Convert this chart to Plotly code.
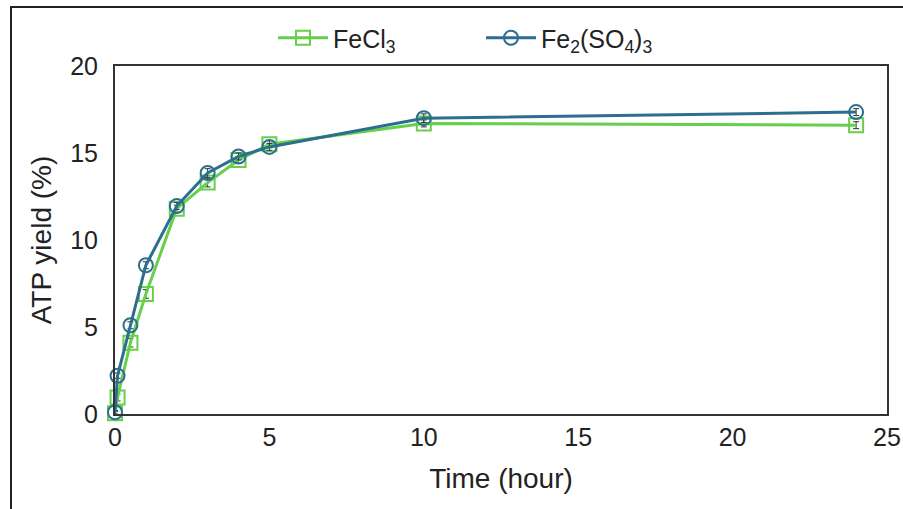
import plotly.graph_objects as go

# Sampling times (hours)
time_h = [0, 0.083, 0.5, 1, 2, 3, 4, 5, 10, 24]

# ATP yield (%) for each iron salt
fecl3_yield = [0.05, 0.95, 4.1, 6.9, 11.8, 13.3, 14.6, 15.5, 16.7, 16.6]
fecl3_err = [0.1, 0.2, 0.25, 0.25, 0.2, 0.25, 0.2, 0.2, 0.2, 0.2]

fe2so43_yield = [0.1, 2.2, 5.1, 8.55, 11.95, 13.85, 14.8, 15.35, 17.0, 17.35]
fe2so43_err = [0.1, 0.15, 0.2, 0.2, 0.2, 0.25, 0.2, 0.2, 0.25, 0.2]

x_ticks = [0, 5, 10, 15, 20, 25]
y_ticks = [0, 5, 10, 15, 20]

GREEN = "#66cf4b"
BLUE = "#2c6e8e"
FONT = "Liberation Sans, Arial, sans-serif"
INK = "#222222"

fig = go.Figure()

fig.add_trace(go.Scatter(
    x=time_h, y=fecl3_yield, name="FeCl<sub>3</sub>",
    mode="lines+markers",
    line=dict(color=GREEN, width=3),
    marker=dict(symbol="square-open", size=14, color=GREEN, line=dict(width=2)),
    error_y=dict(type="data", array=fecl3_err, color="#333333", thickness=1, width=3),
    cliponaxis=False,
))

fig.add_trace(go.Scatter(
    x=time_h, y=fe2so43_yield, name="Fe<sub>2</sub>(SO<sub>4</sub>)<sub>3</sub>",
    mode="lines+markers",
    line=dict(color=BLUE, width=3),
    marker=dict(symbol="circle-open", size=14, color=BLUE, line=dict(width=2)),
    error_y=dict(type="data", array=fe2so43_err, color="#333333", thickness=1, width=3),
    cliponaxis=False,
))

# Plot-area geometry in pixels
W, H = 903, 509
L, R, T, B = 115, 16, 66, 95
pw, ph = W - L - R, H - T - B

# Outer frame around the figure (runs off the right and bottom edges)
fig.add_shape(
    type="rect", xref="paper", yref="paper",
    x0=(11 - L) / pw, x1=(W + 10 - L) / pw,
    y0=-(H + 10 - (T + ph)) / ph, y1=(T + ph - 7) / ph,
    line=dict(color=INK, width=2), fillcolor="rgba(0,0,0,0)",
    layer="below",
)

fig.update_layout(
    width=W, height=H,
    margin=dict(l=L, r=R, t=T, b=B, autoexpand=False),
    paper_bgcolor="white", plot_bgcolor="white",
    font=dict(family=FONT, color=INK),
    showlegend=True,
    legend=dict(
        orientation="h", x=(273 - L) / pw, xanchor="left",
        y=(T + ph - 38) / ph, yanchor="middle",
        font=dict(size=25, family=FONT, color=INK),
        itemwidth=50, entrywidth=143, entrywidthmode="pixels",
        bgcolor="rgba(0,0,0,0)",
    ),
    xaxis=dict(
        range=[0, 25], tickvals=x_ticks, ticks="", showgrid=False, zeroline=False,
        showline=True, mirror=True, linecolor="#333333", linewidth=2,
        automargin=False,
        tickfont=dict(size=25, family=FONT, color=INK),
        title=dict(text="Time (hour)", font=dict(size=28, family=FONT, color=INK), standoff=18),
    ),
    yaxis=dict(
        range=[0, 20], tickvals=y_ticks, ticks="", showgrid=False, zeroline=False,
        showline=True, mirror=True, linecolor="#333333", linewidth=2,
        automargin=False,
        tickfont=dict(size=25, family=FONT, color=INK),
        ticklabelstandoff=10,
        title=dict(text="ATP yield (%)", font=dict(size=28, family=FONT, color=INK), standoff=10),
    ),
)

fig.write_html("out.html")
